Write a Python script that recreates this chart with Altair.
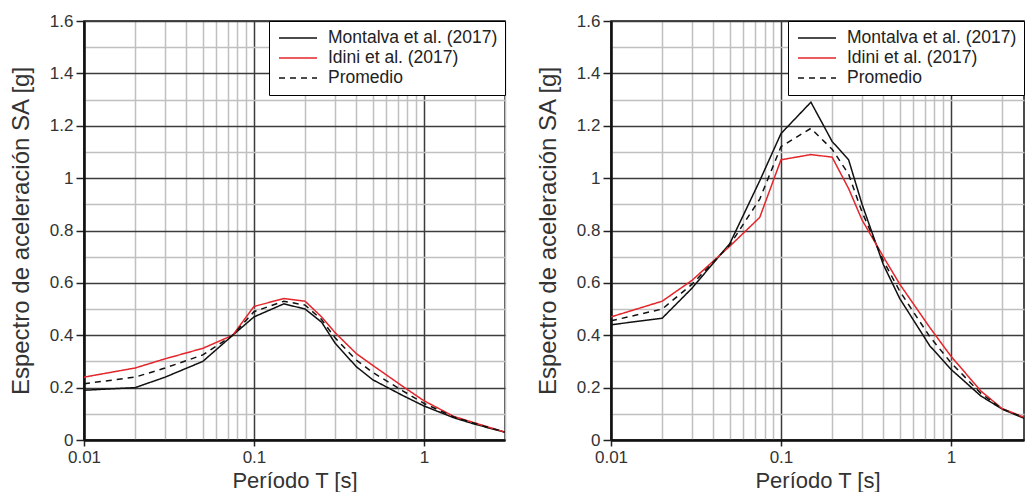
import altair as alt
import pandas as pd

# Spectral periods T [s]
periods = [0.01, 0.02, 0.03, 0.05, 0.075, 0.1, 0.15, 0.2, 0.25, 0.3,
           0.4, 0.5, 0.75, 1.0, 1.5, 2.0, 3.0]

# Left panel
montalva_left = [0.19, 0.20, 0.24, 0.30, 0.40, 0.47, 0.52, 0.50, 0.45, 0.37,
                 0.28, 0.23, 0.17, 0.13, 0.085, 0.06, 0.03]
idini_left = [0.24, 0.275, 0.31, 0.35, 0.40, 0.51, 0.54, 0.53, 0.47, 0.41,
              0.33, 0.285, 0.205, 0.15, 0.09, 0.065, 0.03]
promedio_left = [0.215, 0.24, 0.275, 0.325, 0.40, 0.49, 0.53, 0.515, 0.46, 0.39,
                 0.305, 0.258, 0.188, 0.14, 0.088, 0.063, 0.03]

# Right panel
montalva_right = [0.44, 0.465, 0.58, 0.75, 0.99, 1.17, 1.29, 1.14, 1.07, 0.90,
                  0.67, 0.54, 0.36, 0.27, 0.168, 0.118, 0.07]
idini_right = [0.47, 0.53, 0.61, 0.74, 0.85, 1.07, 1.09, 1.08, 0.96, 0.84,
               0.70, 0.595, 0.43, 0.32, 0.187, 0.12, 0.075]
promedio_right = [0.455, 0.50, 0.595, 0.745, 0.92, 1.12, 1.19, 1.11, 1.015, 0.87,
                  0.685, 0.568, 0.395, 0.295, 0.178, 0.119, 0.073]

series_names = ["Montalva et al. (2017)", "Idini et al. (2017)", "Promedio"]

x_tick_values = [0.01, 0.02, 0.03, 0.04, 0.05, 0.06, 0.07, 0.08, 0.09,
                 0.1, 0.2, 0.3, 0.4, 0.5, 0.6, 0.7, 0.8, 0.9,
                 1, 2, 3]
y_tick_values = [0, 0.1, 0.2, 0.3, 0.4, 0.5, 0.6, 0.7, 0.8, 0.9,
                 1.0, 1.1, 1.2, 1.3, 1.4, 1.5, 1.6]

FONT = "Liberation Sans"


def long_frame(mont, idin, prom):
    rows = []
    for i, (name, vals) in enumerate(zip(series_names, [mont, idin, prom])):
        for t, v in zip(periods, vals):
            rows.append({"T": t, "SA": v, "Serie": name, "k": i})
    return pd.DataFrame(rows)


x_major = "datum.value == 0.01 || datum.value == 0.1 || datum.value == 1"
y_major = "round(datum.value * 10) % 2 == 0"


def panel(df, xmax, width):
    legend = alt.Legend(
        orient="top-right", offset=0, title=None,
        strokeColor="black", fillColor="white", padding=7,
        symbolType="stroke", symbolSize=1444, symbolStrokeWidth=1.5,
        symbolOffset=2, clipHeight=20,
        labelFont=FONT, labelFontSize=17.5, labelColor="#222222",
        labelOffset=10, labelLimit=300, rowPadding=0, cornerRadius=0,
    )
    return alt.Chart(df).mark_line(strokeWidth=1.5, clip=True).encode(
        x=alt.X("T:Q",
                scale=alt.Scale(type="log", domain=[0.01, xmax], nice=False),
                axis=alt.Axis(
                    values=x_tick_values,
                    labelExpr="datum.value == 0.01 ? '0.01' : datum.value == 0.1 ? '0.1' : datum.value == 1 ? '1' : ''",
                    title="Período T [s]",
                    gridColor={"condition": {"test": x_major, "value": "#3c3c3c"}, "value": "#c0c0c0"},
                    gridWidth=1.5,
                    tickColor={"condition": {"test": x_major, "value": "#222222"}, "value": "transparent"},
                    tickSize=6, tickWidth=1.5,
                    domainColor="#111111", domainWidth=2.5,
                    labelFont=FONT, labelFontSize=17, labelColor="#333333",
                    labelPadding=3, labelFlush=False, labelOverlap=False,
                    titleFont=FONT, titleFontSize=22, titleFontWeight="normal",
                    titleColor="#333333", titlePadding=5,
                )),
        y=alt.Y("SA:Q",
                scale=alt.Scale(domain=[0, 1.6], nice=False),
                axis=alt.Axis(
                    values=y_tick_values,
                    labelExpr=f"({y_major}) ? format(datum.value, '~g') : ''",
                    title="Espectro de aceleración SA [g]",
                    gridColor={"condition": {"test": y_major, "value": "#3c3c3c"}, "value": "#c0c0c0"},
                    gridWidth=1.5,
                    tickColor={"condition": {"test": y_major, "value": "#222222"}, "value": "transparent"},
                    tickSize=8, tickWidth=1.5,
                    domainColor="#111111", domainWidth=2.5,
                    labelFont=FONT, labelFontSize=17, labelColor="#333333",
                    labelPadding=3, labelFlush=False, labelOverlap=False,
                    titleFont=FONT, titleFontSize=24, titleFontWeight="normal",
                    titleColor="#333333", titlePadding=16,
                )),
        color=alt.Color("Serie:N",
                        scale=alt.Scale(domain=series_names,
                                        range=["#111111", "#e3262b", "#111111"]),
                        legend=legend),
        strokeDash=alt.StrokeDash("Serie:N",
                                  scale=alt.Scale(domain=series_names,
                                                  range=[[1, 0], [1, 0], [6, 5]]),
                                  legend=legend),
        order=alt.Order("k:Q"),
    ).properties(width=width, height=419)


left = panel(long_frame(montalva_left, idini_left, promedio_left), 3.0, 421)
right = panel(long_frame(montalva_right, idini_right, promedio_right), 2.69, 413)

chart = alt.hconcat(left, right, spacing=28).resolve_scale(
    color="independent", strokeDash="independent"
).resolve_legend(
    color="independent", strokeDash="independent"
).properties(
    padding={"left": 8, "top": 11, "right": 0, "bottom": 0},
    background="white",
).configure_view(stroke="#111111", strokeWidth=1.5)

chart.save("out.html", embed_options={"renderer": "svg", "actions": False})
